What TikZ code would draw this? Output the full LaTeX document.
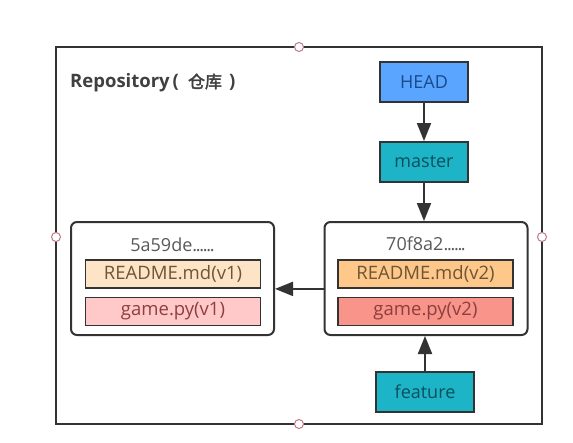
\documentclass[tikz,border=0pt]{standalone}
\usepackage{fontspec}
\setmainfont{Open Sans}
\newfontfamily\cjk{Noto Sans CJK SC}[AutoFakeBold=2]
\usetikzlibrary{arrows.meta}
\definecolor{linec}{HTML}{333333}
\definecolor{headfill}{HTML}{5AA5FF}
\definecolor{headtext}{HTML}{1A4A8A}
\definecolor{tealfill}{HTML}{1EB4C8}
\definecolor{tealtext}{HTML}{0B4F5C}
\definecolor{rdone}{HTML}{FDE4C6}
\definecolor{rdtwo}{HTML}{FDC889}
\definecolor{gmone}{HTML}{FFC9C9}
\definecolor{gmtwo}{HTML}{F8948A}
\definecolor{rdtext}{HTML}{6E5535}
\definecolor{gmtext}{HTML}{8E3E3E}
\definecolor{handlec}{HTML}{C07A88}
\newcommand{\hdots}{.\kern-1.3pt.\kern-1.3pt.\kern-1.3pt.\kern-1.3pt.\kern-1.3pt.}
\tikzset{
  refbox/.style={draw=linec, line width=2pt, minimum width=88pt, minimum height=40pt, inner sep=0pt, font=\fontsize{18}{21}\selectfont},
  commitbox/.style={draw=linec, line width=2pt, rounded corners=6pt, minimum width=203pt, minimum height=113pt, inner sep=0pt},
  filebox/.style={draw=linec, line width=1.8pt, minimum width=175pt, minimum height=28pt, inner sep=0pt, font=\fontsize{18.5}{21}\selectfont},
  hashlabel/.style={text=black!65, font=\fontsize{18}{21}\selectfont, inner sep=0pt},
  conn/.style={draw=linec, line width=2pt, -{Triangle[width=14pt,length=18pt]}},
  handle/.style={circle, draw=handlec, fill=white, line width=1pt, minimum size=9pt, inner sep=0pt},
}
\begin{document}
\begin{tikzpicture}[x=1pt,y=-1pt]
\useasboundingbox (0,0) rectangle (573,442);
\fill[white] (0,0) rectangle (573,442);
% outer repository frame
\draw[draw=linec, line width=2pt] (56,47) rectangle (542,424);
\node[anchor=west, inner sep=0pt, text=black!75, font=\bfseries\fontsize{18.5}{21}\selectfont] (repo) at (70,83) {Repository\kern3pt(\kern9pt{\cjk\fontsize{17}{20}\selectfont 仓库}\kern7pt)};
% refs
\node[refbox, fill=headfill, text=headtext] (head) at (424,82) {HEAD};
\node[refbox, fill=tealfill, text=tealtext] (master) at (424,162) {master};
\node[refbox, fill=tealfill, text=tealtext, minimum width=98pt] (feature) at (425,392) {feature};
% commits
\node[commitbox] (c2) at (426,278.5) {};
\node[commitbox] (c1) at (172.5,278.5) {};
\node[hashlabel] (h2) at (426,244) {70f8a2\hdots};
\node[hashlabel] (h1) at (172.5,245) {5a59de\hdots};
\node[filebox, fill=rdtwo, text=rdtext] (r2) at (425.5,274) {README.md(v2)};
\node[filebox, fill=gmtwo, text=gmtext] (g2) at (425.5,311.5) {game.py(v2)};
\node[filebox, fill=rdone, text=rdtext] (r1) at (173,274) {README.md(v1)};
\node[filebox, fill=gmone, text=gmtext] (g1) at (173,311.5) {game.py(v1)};
% connectors
\draw[conn] (head.south) -- (master.north);
\draw[conn] (master.south) -- (master.south |- c2.north);
\draw[conn] (c2.west |- r2.south) -- (c1.east |- r2.south);
\draw[conn] (feature.north) -- (feature.north |- c2.south);
% selection handles
\node[handle] (ht) at (299,47) {};
\node[handle] (hb) at (299,424) {};
\node[handle] (hl) at (56,237) {};
\node[handle] (hr) at (542,237) {};
\end{tikzpicture}
\end{document}
